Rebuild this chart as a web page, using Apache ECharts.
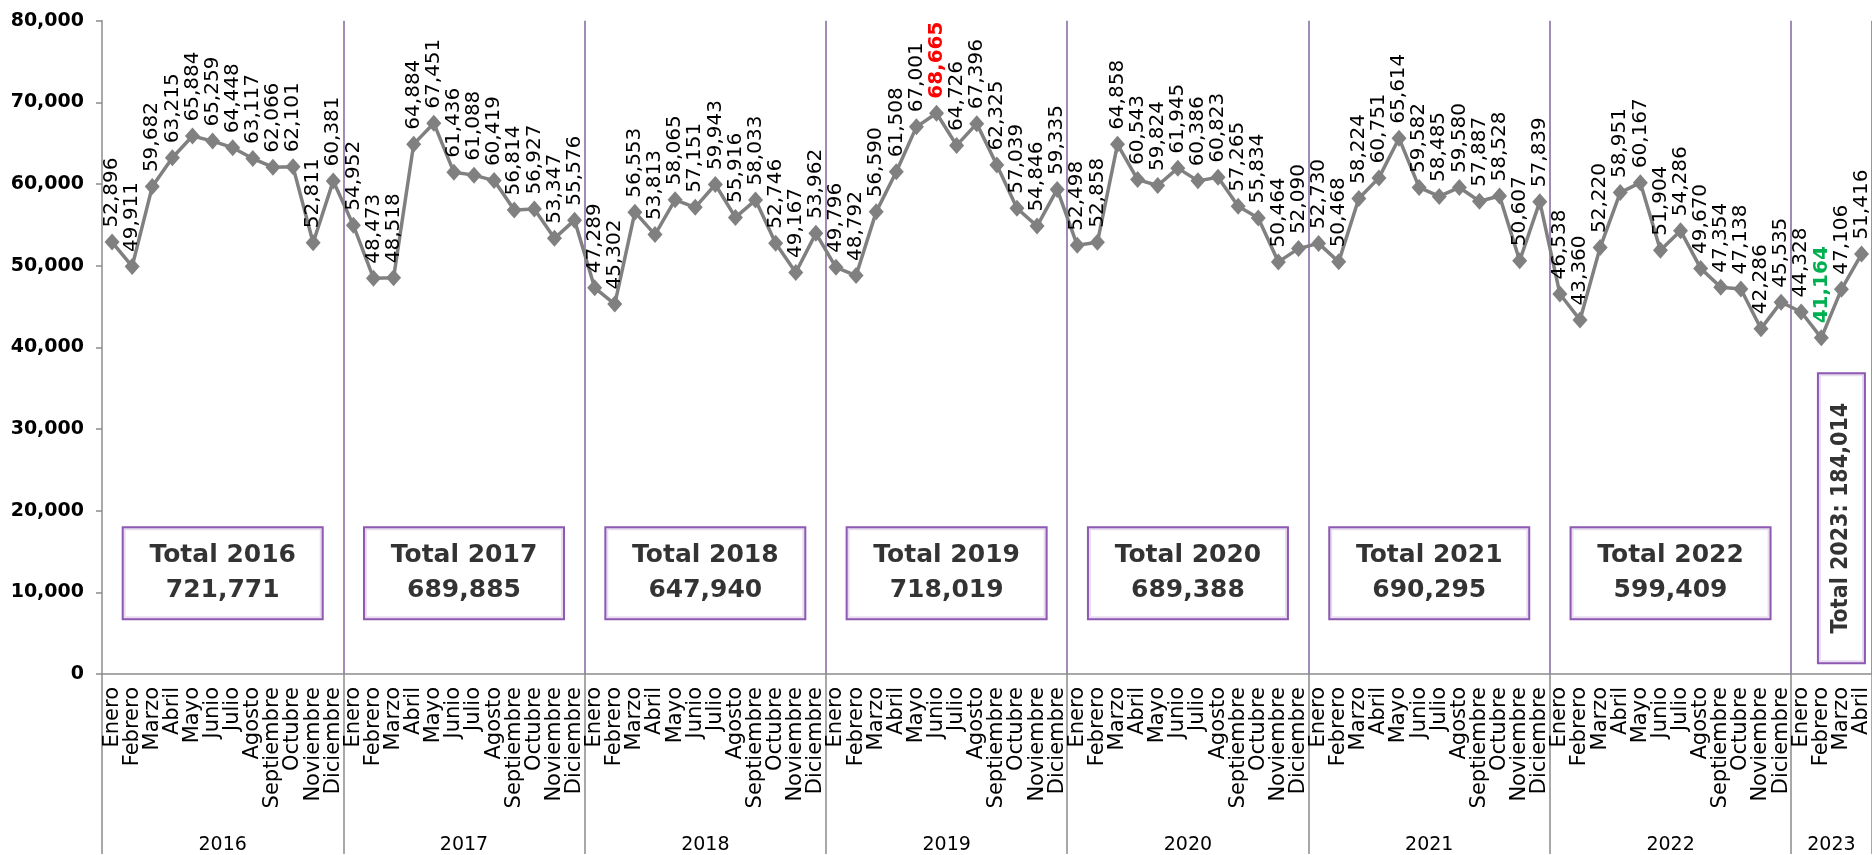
<!DOCTYPE html>
<html>
<head>
<meta charset="utf-8">
<script src="https://cdn.jsdelivr.net/npm/echarts@6/dist/echarts.min.js"></script>
<style>
  html, body { margin: 0; padding: 0; background: #fff; }
  #chart { width: 1872px; height: 855px; }
</style>
</head>
<body>
<div id="chart"></div>
<script>
const months = ['Enero','Febrero','Marzo','Abril','Mayo','Junio','Julio','Agosto','Septiembre','Octubre','Noviembre','Diciembre'];
const years = ['2016','2017','2018','2019','2020','2021','2022','2023'];

const values2016 = [52896, 49911, 59682, 63215, 65884, 65259, 64448, 63117, 62066, 62101, 52811, 60381];
const values2017 = [54952, 48473, 48518, 64884, 67451, 61436, 61088, 60419, 56814, 56927, 53347, 55576];
const values2018 = [47289, 45302, 56553, 53813, 58065, 57151, 59943, 55916, 58033, 52746, 49167, 53962];
const values2019 = [49796, 48792, 56590, 61508, 67001, 68665, 64726, 67396, 62325, 57039, 54846, 59335];
const values2020 = [52498, 52858, 64858, 60543, 59824, 61945, 60386, 60823, 57265, 55834, 50464, 52090];
const values2021 = [52730, 50468, 58224, 60751, 65614, 59582, 58485, 59580, 57887, 58528, 50607, 57839];
const values2022 = [46538, 43360, 52220, 58951, 60167, 51904, 54286, 49670, 47354, 47138, 42286, 45535];
const values2023 = [44328, 41164, 47106, 51416];

const yearTotals = [721771, 689885, 647940, 718019, 689388, 690295, 599409];
const total2023 = 184014;

const yTicks = [0, 10000, 20000, 30000, 40000, 50000, 60000, 70000, 80000];

const allYears = [values2016, values2017, values2018, values2019, values2020, values2021, values2022, values2023];

const fmt = v => Number(v).toLocaleString('en-US');

// build categories
const categories = [];
const yearStart = [];
allYears.forEach((vals, yi) => {
  yearStart.push(categories.length);
  vals.forEach((v, mi) => categories.push(months[mi] + '|' + years[yi]));
});
const yearLabelIdx = {};
allYears.forEach((vals, yi) => { yearLabelIdx[yearStart[yi] + Math.floor(vals.length / 2)] = years[yi]; });

const flat = [].concat(...allYears);
const maxV = Math.max(...flat), minV = Math.min(...flat);
const lineData = flat.map(v => {
  if (v === maxV) return { value: v, label: { color: '#ff0000', fontWeight: 'bold' } };
  if (v === minV) return { value: v, label: { color: '#00b050', fontWeight: 'bold' } };
  return v;
});

const PURPLE = '#8064A2';
const BOX = '#7030A0';
const GREY = '#8c8c8c';
const FONT = "'DejaVu Sans', sans-serif";

const boxData = yearTotals.map((t, k) => ({
  value: [yearStart[k] + 6, 12350],
  label: { formatter: 'Total ' + years[k] + '\n' + fmt(t) }
}));

const chart = echarts.init(document.getElementById('chart'), null, { renderer: 'canvas' });
chart.setOption({
  animation: false,
  backgroundColor: '#fff',
  grid: { left: 102, top: 20.7, right: -6, bottom: 180, containLabel: false },
  xAxis: [
    {
      type: 'category',
      data: categories,
      boundaryGap: true,
      axisLine: { show: true, lineStyle: { color: GREY, width: 1.5 } },
      axisTick: { show: false },
      axisLabel: {
        interval: 0, rotate: 90, margin: 13,
        fontSize: 21, fontFamily: FONT, color: '#000',
        formatter: v => v.split('|')[0]
      },
      splitLine: {
        show: true,
        interval: (i) => i > 0 && i % 12 === 0,
        lineStyle: { color: PURPLE, width: 1.5 }
      }
    },
    {
      type: 'category',
      data: categories,
      position: 'bottom',
      boundaryGap: true,
      axisLine: { show: false },
      axisTick: {
        show: true, length: 180,
        interval: (i) => i % 12 === 0,
        lineStyle: { color: GREY, width: 1.5 }
      },
      axisLabel: {
        interval: 0, margin: 162,
        fontSize: 19, fontFamily: FONT, color: '#000',
        padding: [0, 20, 0, 0],
        formatter: (v, i) => yearLabelIdx[i] || ''
      },
      splitLine: { show: false }
    }
  ],
  yAxis: {
    type: 'value',
    min: yTicks[0], max: yTicks[yTicks.length - 1], interval: 10000,
    axisLine: { show: true, lineStyle: { color: GREY, width: 1.5 } },
    axisTick: { show: true, length: 6, lineStyle: { color: GREY, width: 1.5 } },
    axisLabel: {
      margin: 18, fontSize: 19, fontWeight: 'bold', fontFamily: FONT, color: '#000',
      formatter: v => fmt(v)
    },
    splitLine: { show: false }
  },
  series: [
    {
      type: 'line',
      data: lineData,
      symbol: 'diamond',
      symbolSize: [15, 17],
      lineStyle: { color: '#808080', width: 3.5 },
      itemStyle: { color: '#808080' },
      label: {
        show: true, position: 'top', rotate: 90, align: 'left', verticalAlign: 'middle',
        distance: 6, fontSize: 20, fontFamily: FONT, color: '#000',
        formatter: p => fmt(p.value)
      },
      z: 3
    },
    {
      type: 'scatter',
      data: boxData,
      symbolSize: 0,
      silent: true,
      label: {
        show: true, position: 'inside', offset: [-10, 0],
        fontSize: 25, fontWeight: 'bold', fontFamily: FONT, color: '#000',
        lineHeight: 35, width: 194, align: 'center', verticalAlign: 'middle',
        borderColor: BOX, borderWidth: 2, backgroundColor: '#fff',
        padding: [10, 2]
      },
      z: 4
    },
    {
      type: 'scatter',
      data: [{ value: [yearStart[7] + 2, 20800] }],
      symbolSize: 0,
      silent: true,
      label: {
        show: true, position: 'inside', offset: [-14, 0], rotate: 90,
        fontSize: 23, fontWeight: 'bold', fontFamily: "'DejaVu Sans Condensed', 'DejaVu Sans', sans-serif", color: '#000',
        width: 276, align: 'center', verticalAlign: 'middle',
        borderColor: BOX, borderWidth: 2, backgroundColor: '#fff',
        padding: [11, 6],
        formatter: 'Total ' + years[7] + ': ' + fmt(total2023)
      },
      z: 4
    }
  ]
});
</script>
</body>
</html>
